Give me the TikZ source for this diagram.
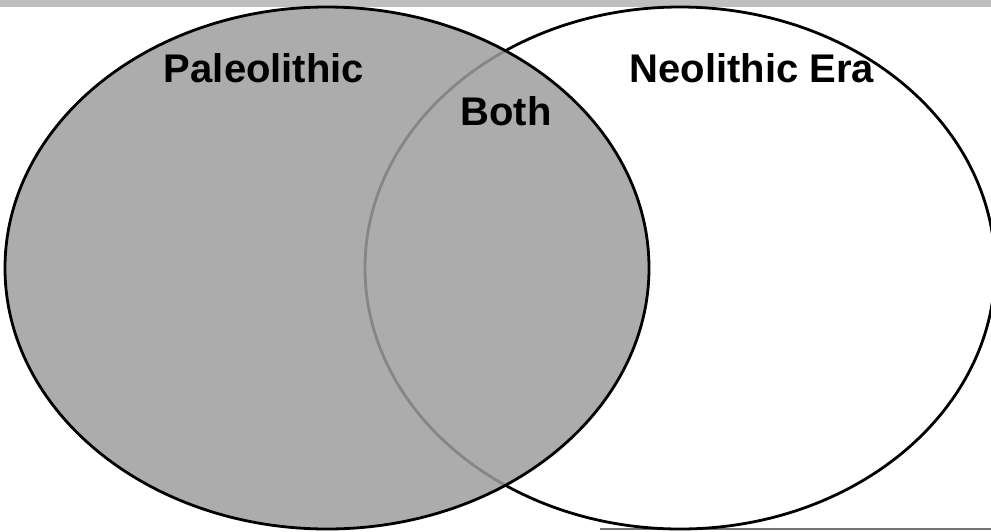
\documentclass[tikz,border=0pt]{standalone}
\usepackage{fontspec}
\setmainfont{Liberation Sans}
\usetikzlibrary{positioning}
\tikzset{every picture/.style={line width=0.75pt}}
\tikzset{
    eralabel/.style={font=\fontsize{40}{48}\selectfont\bfseries, anchor=base, inner sep=0pt},
    ring/.style={line width=2.8pt, draw=black}
}

\begin{document}
\begin{tikzpicture}[x=1pt, y=-1pt]
    \useasboundingbox (0, 0) rectangle (991, 531);
    % 顶部灰条与底线
    \fill[black!25] (0, 0) rectangle (991, 7);
    \draw[black!55, line width=1.2pt] (600, 529) -- (991, 529);

    % 右圆 - 新石器
    \draw[ring, fill=white] (680, 268) ellipse (315 and 261);
    % 左圆 - 旧石器（半透明灰）
    \draw[ring, fill=black!38, fill opacity=0.85] (327, 268) ellipse (322 and 261);

    % 标签
    \node[eralabel] (paleo) at (264, 82) {Paleolithic};
    \node[eralabel] (neo) at (752, 82) {Neolithic Era};
    \node[eralabel] (both) at (506, 125) {Both};
\end{tikzpicture}
\end{document}
